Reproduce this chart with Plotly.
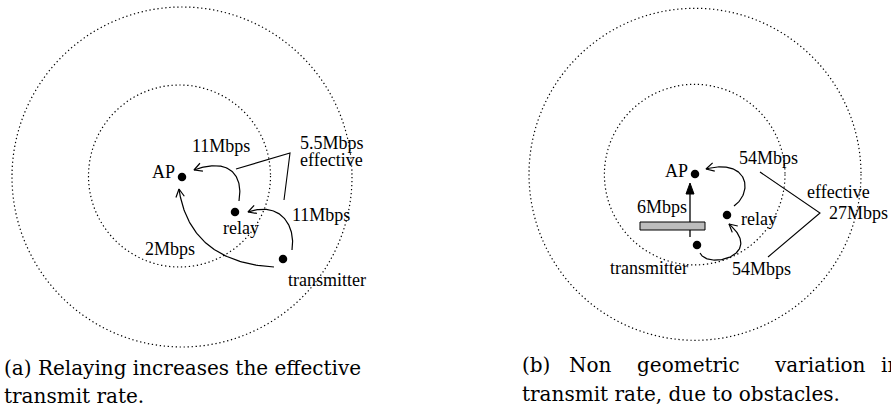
import numpy as np
import plotly.graph_objects as go

W, H = 891, 408

# ---------------- diagram (a) ----------------
a_rings = [(182, 177, 170), (179.5, 176, 91)]          # cx, cy, r
a_node_names = ["AP", "relay", "transmitter"]
a_node_x = [182, 235, 283]
a_node_y = [177, 212, 259]
a_curves = [
    [(239, 201), (244, 172), (226, 158), (194, 170)],  # relay -> AP
    [(292, 250), (296, 225), (280, 201), (248, 212)],  # transmitter -> relay
    [(274, 267), (219, 264), (186, 238), (179, 189)],  # transmitter -> AP
]
a_bracket_x = [236, 290, 284]
a_bracket_y = [169, 153, 200]
a_label_text = ["AP", "11Mbps", "5.5Mbps", "effective", "11Mbps", "relay", "2Mbps", "transmitter"]
a_label_x = [177, 221, 332, 331, 320.5, 241, 169.5, 327]
a_label_y = [172, 146, 143, 159.5, 215, 228, 249, 280]
a_label_anchor = ["right", "center", "center", "center", "center", "center", "center", "center"]

# ---------------- diagram (b) ----------------
b_rings = [(695, 174.3, 166), (694.7, 174.6, 90.3)]
b_node_names = ["AP", "relay", "transmitter"]
b_node_x = [695, 727, 697]
b_node_y = [174, 215, 245]
b_curves = [
    [(734, 206), (754, 192), (748, 158), (706, 169)],  # relay -> AP
    [(700, 253), (708, 270), (765, 255), (729, 224)],  # transmitter -> relay
]
b_arrow = [(690, 237), (690, 183)]                     # direct 6Mbps link
b_obstacle = [(640, 222), (705, 230)]
b_bracket_x = [760, 820, 768]
b_bracket_y = [172, 213, 257]
b_label_text = ["AP", "54Mbps", "6Mbps", "relay", "effective", "27Mbps", "transmitter", "54Mbps"]
b_label_x = [690, 768, 661.5, 758.5, 838, 858, 648.5, 761]
b_label_y = [170.5, 158, 207, 218.5, 192, 213, 267.5, 269]
b_label_anchor = ["right", "center", "center", "center", "center", "center", "center", "center"]

# ---------------- captions ----------------
cap_a_lines = ["(a) Relaying increases the effective", "transmit rate."]
cap_a_x = [2, 2]
cap_a_base = [375, 403]
cap_b_words = ["(b)", "Non", "geometric", "variation", "in"]
cap_b_word_x = [520, 567, 635, 772, 879]
cap_b_line2 = "transmit rate, due to obstacles."
cap_b_x2 = 520
cap_b_base = [372, 401]

LABEL_FONT = dict(family="Liberation Serif, Times New Roman, serif", size=18, color="black")
CAP_FONT = dict(family="DejaVu Serif, serif", size=20, color="black")

fig = go.Figure()
shapes = []
annotations = []


def ring_shapes(rings):
    for cx, cy, r in rings:
        shapes.append(dict(type="circle", xref="x", yref="y",
                           x0=cx - r, x1=cx + r, y0=cy - r, y1=cy + r,
                           line=dict(color="black", width=1.2, dash="1.3px,2.7px")))


def bezier(p):
    t = np.linspace(0, 1, 80)[:, None]
    P = np.array(p, dtype=float)
    pts = ((1 - t) ** 3) * P[0] + 3 * ((1 - t) ** 2) * t * P[1] + 3 * (1 - t) * t ** 2 * P[2] + t ** 3 * P[3]
    return pts[:, 0], pts[:, 1]


def open_head(tip, frm, length=9.0, ang=28):
    d = np.array(tip, float) - np.array(frm, float)
    d /= np.linalg.norm(d)
    out = []
    for s in (1, -1):
        a = np.radians(s * ang)
        rot = np.array([[np.cos(a), -np.sin(a)], [np.sin(a), np.cos(a)]])
        w = np.array(tip) - length * rot @ d
        out.append(w)
    xs = [out[0][0], tip[0], out[1][0]]
    ys = [out[0][1], tip[1], out[1][1]]
    return xs, ys


def line_trace(xs, ys, width=1.2):
    fig.add_trace(go.Scatter(x=xs, y=ys, mode="lines", line=dict(color="black", width=width),
                             hoverinfo="skip", showlegend=False))


def draw_curves(curves):
    for c in curves:
        xs, ys = bezier(c)
        line_trace(xs, ys)
        hx, hy = open_head(c[3], c[2])
        line_trace(hx, hy)


def labels(texts, xs, ys, anchors, font):
    for t, x, y, a in zip(texts, xs, ys, anchors):
        annotations.append(dict(text=t, x=x, y=y, xref="x", yref="y", xanchor=a, yanchor="middle",
                                showarrow=False, font=font))


# rings
ring_shapes(a_rings)
ring_shapes(b_rings)

# obstacle
shapes.append(dict(type="rect", xref="x", yref="y",
                   x0=b_obstacle[0][0], x1=b_obstacle[1][0], y0=b_obstacle[0][1], y1=b_obstacle[1][1],
                   fillcolor="#bdbdbd", line=dict(color="black", width=1)))

# curves
draw_curves(a_curves)
draw_curves(b_curves)

# brackets
line_trace(a_bracket_x, a_bracket_y, 1.1)
line_trace(b_bracket_x, b_bracket_y, 1.1)

# direct arrow with filled head
(sx, sy), (tx, ty) = b_arrow
head_len, head_w = 11, 4
line_trace([sx, tx], [sy, ty + head_len - 1], 1.3)
fig.add_trace(go.Scatter(x=[tx, tx - head_w, tx + head_w, tx], y=[ty, ty + head_len, ty + head_len, ty],
                         mode="lines", fill="toself", fillcolor="black",
                         line=dict(color="black", width=1), hoverinfo="skip", showlegend=False))

# nodes
fig.add_trace(go.Scatter(x=a_node_x + b_node_x, y=a_node_y + b_node_y, mode="markers",
                         marker=dict(color="black", size=8.5), text=a_node_names + b_node_names,
                         hoverinfo="text", showlegend=False))

# labels
labels(a_label_text, a_label_x, a_label_y, a_label_anchor, LABEL_FONT)
labels(b_label_text, b_label_x, b_label_y, b_label_anchor, LABEL_FONT)

# captions (baseline -> middle offset)
off = 0.33 * CAP_FONT["size"]
for t, x, b in zip(cap_a_lines, cap_a_x, cap_a_base):
    annotations.append(dict(text=t, x=x, y=b - off, xref="x", yref="y", xanchor="left", yanchor="middle",
                            showarrow=False, font=CAP_FONT))
for w, x in zip(cap_b_words, cap_b_word_x):
    annotations.append(dict(text=w, x=x, y=cap_b_base[0] - off, xref="x", yref="y", xanchor="left",
                            yanchor="middle", showarrow=False, font=CAP_FONT))
annotations.append(dict(text=cap_b_line2, x=cap_b_x2, y=cap_b_base[1] - off, xref="x", yref="y",
                        xanchor="left", yanchor="middle", showarrow=False, font=CAP_FONT))

fig.update_layout(
    width=W, height=H, margin=dict(l=0, r=0, t=0, b=0),
    paper_bgcolor="white", plot_bgcolor="white",
    xaxis=dict(range=[0, W], visible=False, fixedrange=True),
    yaxis=dict(range=[H, 0], visible=False, fixedrange=True),
    shapes=shapes, annotations=annotations, showlegend=False,
)
fig.write_html("out.html", config={"displayModeBar": False},
               post_script="document.body.style.margin='0';document.body.style.overflow='hidden';")
